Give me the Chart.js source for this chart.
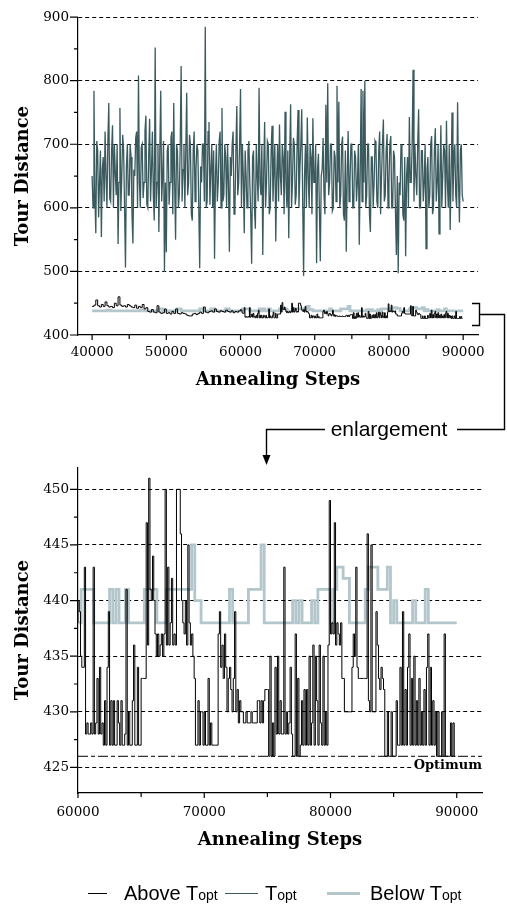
<!DOCTYPE html>
<html>
<head>
<meta charset="utf-8">
<title>Tour Distance vs Annealing Steps</title>
<script src="https://cdn.jsdelivr.net/npm/chart.js@4.4.1/dist/chart.umd.min.js"></script>
<style>
  html, body { margin: 0; padding: 0; background: #fff; }
  #page { position: relative; width: 507px; height: 915px; overflow: hidden; }
  canvas { position: absolute; left: 0; }
  #topChart { top: 0; }
  #bottomChart { top: 450px; }
  #overlay { position: absolute; left: 0; top: 0; }
  .lg-line { position: absolute; height: 0; }
  .lg-text { position: absolute; top: 883px; font-family: "Liberation Sans", Arial, sans-serif; font-size: 20px; line-height: 20px; color: #000; white-space: nowrap; }
  .lg-text span { font-size: 14px; }
</style>
</head>
<body>
<div id="page">
  <canvas id="topChart" width="507" height="400"></canvas>
  <canvas id="bottomChart" width="507" height="420"></canvas>

  <!-- bracket + arrow pointing to the enlargement -->
  <svg id="overlay" width="507" height="915">
    <path d="M472 303.5 H479.5 V325.5 H472" fill="none" stroke="#000" stroke-width="1.4"/>
    <path d="M479.5 314.5 H504.5 V429.5 H457" fill="none" stroke="#000" stroke-width="1.4"/>
    <path d="M325 429.5 H266.5 V457" fill="none" stroke="#000" stroke-width="1.4"/>
    <polygon points="262.5,455 270.5,455 266.5,465" fill="#000"/>
    <text x="389" y="436" text-anchor="middle" font-family="Liberation Sans, Arial, sans-serif" font-size="21">enlargement</text>
  </svg>

  <!-- legend -->
  <div class="lg-line" style="left:88px; width:19px; top:893px; border-top:1.6px solid #000;"></div>
  <div class="lg-text" style="left:124px;">Above T<span>opt</span></div>
  <div class="lg-line" style="left:225px; width:33px; top:893px; border-top:1.6px solid #3a5a5e;"></div>
  <div class="lg-text" style="left:265px;">T<span>opt</span></div>
  <div class="lg-line" style="left:327px; width:33px; top:892px; border-top:3px solid #b3c6cc;"></div>
  <div class="lg-text" style="left:370px;">Below T<span>opt</span></div>
</div>

<script>
// ---------------- data ----------------
// run at T_opt, one sample every 125 steps
var toptStart = 40000;
var toptStep = 125;
var toptValues = [
    650, 600, 784, 620, 560, 705, 690, 585, 640, 690, 554, 660, 680, 610, 720, 650, 600, 705, 765, 615,
    610, 690, 730, 600, 700, 655, 620, 700, 543, 640, 757, 595, 650, 715, 690, 600, 506, 665, 700, 620,
    620, 700, 680, 590, 544, 660, 650, 710, 720, 600, 808, 640, 600, 695, 700, 615, 640, 720, 745, 605,
    600, 680, 740, 610, 660, 720, 620, 580, 852, 600, 640, 700, 562, 690, 784, 610, 650, 705, 499, 640,
    530, 690, 700, 605, 640, 710, 720, 590, 765, 640, 550, 700, 690, 600, 620, 700, 823, 610, 660, 700,
    600, 690, 781, 620, 640, 715, 700, 590, 580, 690, 720, 610, 660, 700, 690, 600, 505, 665, 640, 700,
    700, 610, 885, 600, 610, 720, 735, 605, 660, 700, 600, 690, 520, 650, 700, 610, 640, 705, 720, 600,
    757, 610, 620, 700, 680, 600, 700, 640, 531, 680, 650, 700, 720, 590, 600, 690, 760, 620, 640, 700,
    787, 600, 700, 650, 560, 690, 650, 600, 690, 705, 640, 590, 512, 680, 690, 600, 567, 700, 650, 610,
    789, 640, 620, 700, 526, 660, 735, 600, 640, 705, 700, 590, 600, 690, 729, 610, 660, 700, 547, 650,
    700, 610, 731, 650, 620, 700, 680, 590, 751, 640, 600, 690, 552, 680, 763, 600, 640, 710, 700, 605,
    620, 700, 754, 600, 660, 700, 755, 610, 493, 650, 700, 600, 742, 650, 600, 700, 680, 590, 741, 640,
    640, 700, 513, 660, 685, 600, 516, 650, 660, 710, 620, 590, 762, 640, 796, 620, 640, 700, 700, 595,
    600, 690, 680, 610, 792, 640, 767, 600, 620, 700, 712, 590, 580, 690, 531, 650, 721, 610, 640, 700,
    700, 600, 600, 690, 680, 610, 640, 700, 542, 650, 787, 610, 784, 640, 800, 600, 620, 700, 700, 590,
    562, 680, 680, 600, 640, 705, 700, 610, 600, 690, 720, 590, 650, 700, 739, 610, 620, 690, 716, 600,
    640, 700, 713, 600, 600, 690, 680, 595, 526, 650, 497, 640, 620, 700, 690, 590, 580, 680, 524, 650,
    680, 600, 743, 640, 640, 700, 817, 610, 700, 650, 620, 700, 755, 600, 600, 690, 690, 610, 640, 700,
    536, 660, 680, 600, 620, 700, 713, 590, 600, 690, 725, 610, 640, 700, 559, 650, 730, 600, 650, 700,
    690, 600, 737, 640, 600, 700, 565, 650, 750, 610, 680, 700, 620, 600, 766, 640, 577, 690, 700, 620,
    610
];

// run above T_opt: coarse part before 60000, fine part in the enlarged range
var aboveEarlyStart = 40000;
var aboveEarlyStep = 250;
var aboveEarlyValues = [
    445, 447, 455, 446, 444, 448, 445, 452, 446, 444,
    445, 443, 450, 446, 460, 447, 445, 446, 444, 448,
    446, 444, 443, 447, 442, 445, 443, 448, 441, 443,
    437, 436, 440, 436, 435, 446, 436, 434, 435, 441,
    434, 435, 433, 437, 434, 441, 434, 433, 435, 434,
    433, 431, 430, 430, 433, 434, 432, 434, 436, 434,
    444, 436, 435, 437, 438, 436, 441, 437, 436, 438,
    437, 436, 439, 437, 436, 438, 435, 437, 436, 438
];
var aboveLateStart = 60000;
var aboveLateStep = 100;
var aboveLateValues = [
    440, 439, 435, 434, 434, 443, 428, 429, 428, 428,
    429, 428, 443, 428, 429, 433, 428, 434, 428, 429,
    427, 431, 427, 434, 439, 427, 431, 427, 431, 427,
    427, 431, 429, 427, 431, 427, 427, 428, 441, 427,
    430, 427, 427, 431, 436, 427, 427, 434, 427, 427,
    433, 433, 433, 433, 447, 436, 451, 441, 440, 444,
    440, 437, 435, 437, 435, 436, 437, 435, 437, 450,
    436, 443, 436, 438, 442, 436, 437, 436, 450, 450,
    450, 446, 440, 438, 437, 440, 436, 445, 438, 436,
    437, 435, 433, 427, 427, 431, 427, 430, 430, 427,
    430, 427, 427, 433, 427, 429, 427, 427, 427, 427,
    427, 437, 439, 434, 436, 433, 437, 434, 430, 433,
    434, 432, 430, 433, 439, 430, 432, 429, 431, 430,
    430, 429, 429, 430, 429, 429, 429, 430, 429, 429,
    429, 429, 431, 431, 429, 431, 429, 431, 432, 432,
    432, 426, 435, 426, 429, 426, 434, 428, 435, 428,
    431, 428, 428, 443, 428, 430, 428, 429, 434, 428,
    426, 426, 437, 426, 433, 426, 427, 431, 427, 432,
    427, 432, 427, 435, 427, 429, 436, 427, 435, 431,
    427, 436, 429, 427, 435, 427, 430, 427, 436, 449,
    437, 438, 437, 447, 436, 438, 437, 436, 438, 433,
    433, 430, 430, 430, 430, 430, 430, 434, 437, 435,
    443, 434, 433, 433, 433, 433, 433, 433, 433, 446,
    431, 430, 445, 430, 430, 430, 439, 436, 433, 432,
    434, 433, 432, 426, 426, 430, 426, 426, 430, 426,
    426, 426, 431, 427, 427, 434, 427, 439, 427, 432,
    427, 434, 437, 427, 433, 427, 435, 427, 431, 427,
    433, 427, 430, 427, 432, 427, 434, 437, 427, 434,
    427, 431, 427, 430, 426, 430, 426, 426, 430, 426,
    437, 426, 426, 426, 426, 429, 426, 429, 426, 426
];

// run below T_opt
var belowEarlyStart = 40000;
var belowEarlyStep = 500;
var belowEarlyValues = [
    438, 438, 438, 438, 439, 438, 438, 438, 438, 438,
    438, 438, 438, 439, 438, 438, 438, 438, 441, 438,
    438, 438, 438, 441, 438, 438, 438, 438, 438, 441,
    438, 438, 441, 438, 438, 438, 441, 438, 438, 438
];
var belowLateStart = 60000;
var belowLateStep = 250;
var belowLateValues = [
    438, 441, 441, 441, 441, 438, 438, 438, 438, 438,
    441, 438, 441, 438, 438, 441, 438, 438, 438, 438,
    438, 441, 441, 441, 441, 438, 438, 438, 441, 441,
    441, 441, 441, 441, 441, 441, 445, 440, 440, 438,
    438, 438, 438, 438, 438, 438, 438, 438, 441, 438,
    438, 438, 438, 438, 441, 441, 441, 441, 445, 438,
    438, 438, 438, 438, 438, 438, 438, 438, 440, 438,
    440, 438, 438, 438, 440, 438, 441, 441, 441, 441,
    438, 441, 443, 443, 442, 442, 438, 438, 438, 438,
    438, 441, 443, 443, 443, 441, 441, 441, 443, 438,
    440, 438, 438, 438, 438, 438, 440, 438, 438, 438,
    441, 438, 438, 438, 438, 438, 438, 438, 438, 438,
    438
];

var optimumValue = 426;

// ticks
var topXTicks = [40000, 50000, 60000, 70000, 80000, 90000];
var topXMinor = [45000, 55000, 65000, 75000, 85000];
var topYTicks = [400, 500, 600, 700, 800, 900];
var topYMinor = [450, 550, 650, 750, 850];
var bottomXTicks = [60000, 70000, 80000, 90000];
var bottomXMinor = [65000, 75000, 85000];
var bottomYTicks = [425, 430, 435, 440, 445, 450];
var bottomYMinor = [427.5, 432.5, 437.5, 442.5, 447.5];

// ---------------- helpers ----------------
function series(start, step, values) {
    return values.map(function (v, i) { return {x: start + i * step, y: v}; });
}

var aboveData = series(aboveEarlyStart, aboveEarlyStep, aboveEarlyValues)
    .concat(series(aboveLateStart, aboveLateStep, aboveLateValues));
var belowData = series(belowEarlyStart, belowEarlyStep, belowEarlyValues)
    .concat(series(belowLateStart, belowLateStep, belowLateValues));
var toptData = series(toptStart, toptStep, toptValues);

var tickFont = {family: 'DejaVu Serif', size: 13.5};
var titleFont = {family: 'DejaVu Serif', size: 18, weight: 'bold'};

// major / minor tick marks drawn outside the axes
var tickMarks = {
    id: 'tickMarks',
    afterDraw: function (chart, args, o) {
        var ctx = chart.ctx, a = chart.chartArea;
        var sx = chart.scales.x, sy = chart.scales.y;
        ctx.save();
        ctx.strokeStyle = '#000';
        ctx.lineWidth = 1.2;
        ctx.beginPath();
        function xMark(v, len) {
            var p = sx.getPixelForValue(v);
            ctx.moveTo(p, a.bottom);
            ctx.lineTo(p, a.bottom + len);
        }
        function yMark(v, len) {
            var p = sy.getPixelForValue(v);
            ctx.moveTo(a.left, p);
            ctx.lineTo(a.left - len, p);
        }
        o.xMajor.forEach(function (v) { xMark(v, 5); });
        o.xMinor.forEach(function (v) { xMark(v, 4); });
        o.yMajor.forEach(function (v) { yMark(v, 8); });
        o.yMinor.forEach(function (v) { yMark(v, 4); });
        ctx.stroke();
        ctx.restore();
    }
};

// "Optimum" label sitting on the 425 grid line
var optimumLabel = {
    id: 'optimumLabel',
    afterDatasetsDraw: function (chart) {
        var ctx = chart.ctx, a = chart.chartArea;
        var y = chart.scales.y.getPixelForValue(425) - 2;
        ctx.save();
        ctx.font = 'bold 13px "DejaVu Serif"';
        var w = ctx.measureText('Optimum').width;
        ctx.fillStyle = '#fff';
        ctx.fillRect(a.right - w - 1, y - 6, w + 2, 11);
        ctx.fillStyle = '#000';
        ctx.textAlign = 'right';
        ctx.textBaseline = 'middle';
        ctx.fillText('Optimum', a.right, y);
        ctx.restore();
    }
};

function xScale(min, max, ticks, height, tickPad, titlePad) {
    return {
        type: 'linear',
        min: min,
        max: max,
        afterBuildTicks: function (s) { s.ticks = ticks.map(function (v) { return {value: v}; }); },
        afterFit: function (s) { s.height = height; },
        grid: {color: 'rgba(0,0,0,0)', drawTicks: false},
        border: {color: '#000', width: 1.2},
        ticks: {
            padding: tickPad, maxRotation: 0, autoSkip: false, color: '#000', font: tickFont,
            callback: function (v) { return String(v); }
        },
        title: {display: true, text: 'Annealing Steps', color: '#000', font: titleFont, padding: {top: 0, bottom: titlePad}}
    };
}

function yScale(min, max, ticks) {
    return {
        type: 'linear',
        min: min,
        max: max,
        afterBuildTicks: function (s) { s.ticks = ticks.map(function (v) { return {value: v}; }); },
        afterFit: function (s) { s.width = 78; },
        grid: {
            drawTicks: false,
            lineWidth: 1,
            color: function (c) { return c.tick && c.tick.value === 400 ? 'rgba(0,0,0,0)' : '#000'; }
        },
        border: {color: '#000', width: 1.2, dash: [4, 3]},
        ticks: {
            padding: 9, color: '#000', font: tickFont,
            callback: function (v) { return String(v); }
        },
        title: {display: true, text: 'Tour Distance', color: '#000', font: titleFont, padding: {top: 13, bottom: 0}}
    };
}

var common = {
    responsive: false,
    animation: false,
    devicePixelRatio: 1,
    events: [],
    parsing: false,
    normalized: true,
    elements: {point: {radius: 0}, line: {tension: 0}}
};

// ---------------- top chart: full run ----------------
new Chart(document.getElementById('topChart'), {
    type: 'line',
    data: {
        datasets: [
            {label: 'Above Topt', data: aboveData, borderColor: '#000', borderWidth: 1, stepped: true},
            {label: 'Below Topt', data: belowData, borderColor: '#b3c6cc', borderWidth: 2.8, stepped: true},
            {label: 'Topt', data: toptData, borderColor: '#3a5a5e', borderWidth: 1.3}
        ]
    },
    options: Object.assign({}, common, {
        layout: {padding: {top: 11, right: 29, left: 0, bottom: 0}},
        scales: {
            x: xScale(38100, 92000, topXTicks, 65, 9, 9),
            y: yScale(400, 900, topYTicks)
        },
        plugins: {
            legend: {display: false},
            tooltip: {enabled: false},
            tickMarks: {xMajor: topXTicks, xMinor: topXMinor, yMajor: topYTicks, yMinor: topYMinor}
        }
    }),
    plugins: [tickMarks]
});

// ---------------- bottom chart: enlargement ----------------
new Chart(document.getElementById('bottomChart'), {
    type: 'line',
    data: {
        datasets: [
            {label: 'Above Topt', data: aboveData, borderColor: '#000', borderWidth: 1, stepped: true},
            {label: 'Below Topt', data: belowData, borderColor: '#b3c6cc', borderWidth: 2.8, stepped: true},
            {
                label: 'Optimum',
                data: [{x: 60000, y: optimumValue}, {x: 92000, y: optimumValue}],
                borderColor: '#000', borderWidth: 1, borderDash: [10, 3, 4, 3]
            }
        ]
    },
    options: Object.assign({}, common, {
        layout: {padding: {top: 16, right: 25, left: 0, bottom: 0}},
        scales: {
            x: xScale(60000, 92000, bottomXTicks, 77, 11, 19),
            y: yScale(422.7, 452, bottomYTicks)
        },
        plugins: {
            legend: {display: false},
            tooltip: {enabled: false},
            tickMarks: {xMajor: bottomXTicks, xMinor: bottomXMinor, yMajor: bottomYTicks, yMinor: bottomYMinor}
        }
    }),
    plugins: [tickMarks, optimumLabel]
});
</script>
</body>
</html>
